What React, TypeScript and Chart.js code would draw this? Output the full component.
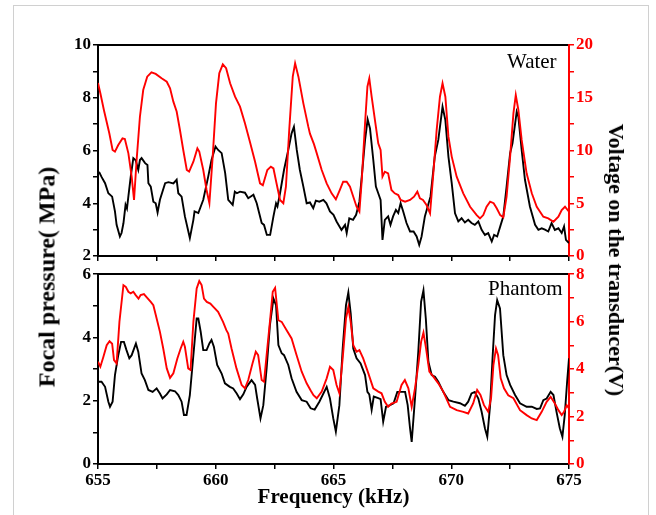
import React, { useEffect, useRef } from "react";
import { Chart, registerables } from "chart.js";
Chart.register(...registerables);

// ---------- Data ----------
const xTicksMajor = [655, 660, 665, 670, 675];

// Water: focal pressure (MPa)
const waterPF = [655.0, 655.06, 655.15, 655.3, 655.44, 655.6, 655.72, 655.79, 655.93, 656.0, 656.08, 656.17, 656.23, 656.29, 656.39, 656.5, 656.6, 656.71, 656.78, 656.85, 657.0, 657.1, 657.14, 657.24, 657.35, 657.45, 657.53, 657.63, 657.85, 657.99, 658.2, 658.34, 658.41, 658.55, 658.69, 658.9, 659.05, 659.1, 659.26, 659.47, 659.68, 659.82, 659.99, 660.1, 660.25, 660.4, 660.53, 660.72, 660.81, 660.9, 661.03, 661.24, 661.38, 661.6, 661.74, 661.95, 662.05, 662.17, 662.31, 662.45, 662.56, 662.62, 662.73, 662.9, 663.08, 663.22, 663.32, 663.44, 663.57, 663.72, 663.86, 664.0, 664.14, 664.25, 664.4, 664.57, 664.7, 664.85, 665.0, 665.13, 665.34, 665.49, 665.56, 665.67, 665.83, 665.96, 666.1, 666.2, 666.34, 666.45, 666.55, 666.69, 666.8, 666.9, 667.0, 667.08, 667.18, 667.32, 667.42, 667.53, 667.65, 667.75, 667.85, 667.96, 668.1, 668.25, 668.4, 668.53, 668.64, 668.74, 668.88, 669.12, 669.3, 669.45, 669.63, 669.75, 669.88, 670.02, 670.16, 670.3, 670.44, 670.58, 670.72, 670.86, 671.0, 671.15, 671.29, 671.43, 671.57, 671.72, 671.82, 671.95, 672.1, 672.21, 672.35, 672.5, 672.6, 672.78, 672.85, 672.99, 673.13, 673.34, 673.56, 673.7, 673.84, 673.98, 674.12, 674.26, 674.4, 674.55, 674.69, 674.79, 674.87, 675.0];
const waterP = [5.15, 5.16, 5.0, 4.76, 4.38, 4.25, 3.69, 3.18, 2.74, 2.87, 3.24, 3.94, 3.8, 4.26, 5.01, 5.71, 5.63, 5.27, 5.64, 5.71, 5.52, 5.45, 4.76, 4.63, 4.06, 4.0, 3.65, 4.13, 4.76, 4.8, 4.75, 4.89, 4.38, 4.25, 3.5, 2.68, 3.37, 3.69, 3.63, 4.13, 5.01, 5.64, 6.15, 6.02, 5.9, 5.14, 4.13, 3.94, 4.44, 4.38, 4.44, 4.4, 4.19, 4.32, 4.0, 3.25, 3.18, 2.8, 2.8, 3.5, 4.0, 3.88, 4.38, 5.27, 6.02, 6.65, 6.9, 6.02, 5.27, 4.63, 4.0, 4.03, 3.81, 4.1, 4.06, 4.13, 4.0, 3.69, 3.56, 3.31, 2.99, 3.18, 2.87, 3.43, 3.37, 3.56, 4.06, 5.01, 6.4, 7.18, 6.84, 5.64, 4.63, 4.38, 4.13, 2.61, 3.37, 3.5, 3.18, 3.5, 3.75, 3.63, 4.0, 3.69, 3.25, 2.93, 2.93, 2.74, 2.42, 2.74, 3.5, 4.26, 5.77, 6.4, 7.66, 7.15, 5.77, 4.76, 3.62, 3.31, 3.43, 3.27, 3.37, 3.25, 3.18, 3.31, 2.99, 2.8, 2.87, 2.55, 2.8, 2.74, 3.18, 3.5, 4.63, 5.9, 6.27, 7.47, 7.28, 6.02, 4.89, 3.88, 3.18, 2.99, 3.05, 3.0, 2.93, 3.25, 2.99, 3.05, 2.87, 3.12, 2.61, 2.49];

// Water: voltage (V)
const waterVF = [655.0, 655.1, 655.25, 655.48, 655.62, 655.72, 655.86, 656.04, 656.14, 656.29, 656.43, 656.53, 656.64, 656.78, 656.92, 657.09, 657.27, 657.45, 657.7, 657.92, 658.06, 658.2, 658.34, 658.48, 658.62, 658.77, 658.87, 659.05, 659.22, 659.3, 659.47, 659.61, 659.73, 659.87, 660.01, 660.15, 660.3, 660.44, 660.61, 660.82, 661.03, 661.24, 661.45, 661.67, 661.88, 662.0, 662.19, 662.34, 662.45, 662.58, 662.73, 662.87, 662.98, 663.12, 663.27, 663.37, 663.51, 663.72, 663.93, 664.0, 664.17, 664.29, 664.5, 664.71, 664.92, 665.1, 665.27, 665.41, 665.56, 665.7, 665.84, 665.98, 666.1, 666.2, 666.34, 666.44, 666.52, 666.62, 666.76, 666.9, 667.0, 667.08, 667.18, 667.32, 667.46, 667.6, 667.75, 667.85, 668.04, 668.25, 668.42, 668.56, 668.67, 668.8, 668.95, 669.1, 669.24, 669.38, 669.52, 669.63, 669.75, 669.88, 670.02, 670.23, 670.51, 670.8, 671.08, 671.22, 671.36, 671.5, 671.65, 671.8, 671.93, 672.08, 672.21, 672.35, 672.5, 672.64, 672.74, 672.85, 672.99, 673.2, 673.42, 673.63, 673.91, 674.12, 674.34, 674.55, 674.69, 674.83, 675.0];
const waterV = [16.4, 15.42, 13.84, 11.63, 10.05, 9.89, 10.52, 11.15, 11.08, 9.73, 7.52, 5.31, 9.1, 13.2, 15.73, 17.0, 17.41, 17.26, 16.84, 16.52, 15.9, 14.63, 13.7, 11.94, 10.05, 8.15, 8.0, 8.94, 10.2, 9.9, 8.15, 6.26, 5.0, 9.42, 14.47, 17.32, 18.17, 17.8, 16.37, 15.1, 14.16, 12.58, 10.84, 8.94, 6.89, 6.7, 8.15, 8.47, 8.3, 6.89, 5.31, 5.0, 6.57, 11.94, 17.0, 18.26, 17.0, 14.47, 12.26, 11.6, 10.6, 9.73, 8.15, 6.89, 5.94, 5.37, 6.26, 7.04, 7.04, 6.57, 5.62, 4.67, 4.2, 7.2, 12.58, 16.05, 16.84, 15.1, 12.89, 10.68, 10.05, 7.52, 7.99, 7.84, 6.26, 5.94, 5.78, 5.31, 5.15, 5.31, 5.62, 6.1, 5.47, 5.31, 4.83, 4.04, 7.84, 11.94, 15.1, 16.37, 15.1, 11.31, 9.42, 7.52, 5.94, 4.67, 3.88, 3.57, 3.88, 4.67, 5.15, 5.0, 4.52, 3.88, 3.67, 5.62, 9.42, 13.52, 15.26, 13.84, 11.0, 7.84, 5.94, 4.67, 3.72, 3.57, 3.25, 3.72, 4.36, 4.67, 4.2];

// Phantom: focal pressure (MPa)
const phantomPF = [655.0, 655.15, 655.3, 655.44, 655.51, 655.62, 655.72, 655.86, 655.98, 656.1, 656.21, 656.33, 656.43, 656.61, 656.71, 656.85, 656.99, 657.14, 657.32, 657.49, 657.63, 657.74, 657.92, 658.06, 658.27, 658.41, 658.55, 658.65, 658.76, 658.9, 659.05, 659.19, 659.26, 659.36, 659.47, 659.61, 659.73, 659.82, 659.92, 660.06, 660.25, 660.39, 660.6, 660.74, 660.89, 661.03, 661.17, 661.31, 661.52, 661.67, 661.76, 661.9, 662.02, 662.16, 662.3, 662.45, 662.56, 662.66, 662.8, 662.9, 663.08, 663.22, 663.43, 663.65, 663.86, 664.03, 664.2, 664.4, 664.71, 664.85, 664.99, 665.1, 665.25, 665.39, 665.53, 665.63, 665.73, 665.84, 665.98, 666.15, 666.34, 666.44, 666.52, 666.62, 666.71, 666.9, 667.0, 667.11, 667.23, 667.4, 667.55, 667.71, 667.9, 668.04, 668.15, 668.25, 668.32, 668.46, 668.6, 668.72, 668.82, 668.92, 669.03, 669.17, 669.31, 669.45, 669.66, 669.88, 670.09, 670.37, 670.58, 670.72, 670.86, 671.0, 671.15, 671.29, 671.43, 671.53, 671.65, 671.76, 671.86, 671.95, 672.07, 672.21, 672.35, 672.5, 672.71, 672.92, 673.2, 673.42, 673.63, 673.77, 673.91, 674.05, 674.22, 674.34, 674.47, 674.61, 674.72, 674.82, 674.92, 675.0];
const phantomP = [2.6, 2.6, 2.44, 1.97, 1.81, 1.97, 2.81, 3.44, 3.86, 3.86, 3.6, 3.34, 3.44, 3.81, 3.55, 2.86, 2.65, 2.34, 2.28, 2.39, 2.23, 2.07, 2.2, 2.34, 2.3, 2.18, 1.97, 1.55, 1.55, 2.18, 3.44, 4.6, 4.6, 4.18, 3.6, 3.6, 3.81, 3.92, 3.71, 3.13, 2.86, 2.55, 2.44, 2.39, 2.23, 2.05, 2.2, 2.44, 2.65, 2.5, 2.07, 1.44, 1.86, 3.02, 4.39, 5.23, 5.02, 3.76, 3.5, 3.44, 3.13, 2.71, 2.28, 2.02, 1.97, 1.76, 1.72, 1.97, 2.44, 2.07, 1.44, 1.02, 1.86, 3.65, 5.02, 5.42, 4.76, 3.65, 3.34, 3.18, 2.81, 2.28, 2.2, 1.71, 2.13, 2.08, 2.05, 1.34, 1.81, 1.86, 1.92, 2.28, 2.28, 2.28, 1.86, 1.13, 0.7, 2.07, 3.55, 5.13, 5.49, 4.6, 3.23, 2.81, 2.76, 2.6, 2.28, 2.02, 1.97, 1.92, 1.84, 1.97, 2.23, 2.28, 2.07, 1.65, 1.13, 0.86, 1.86, 3.44, 4.71, 5.18, 4.92, 3.44, 2.81, 2.5, 2.18, 1.92, 1.81, 1.81, 1.74, 1.76, 2.02, 2.07, 2.28, 2.18, 1.65, 1.13, 0.86, 1.55, 2.6, 3.34];

// Phantom: voltage (V)
const phantomVF = [655.0, 655.1, 655.23, 655.37, 655.49, 655.6, 655.68, 655.79, 655.91, 656.08, 656.18, 656.29, 656.39, 656.5, 656.6, 656.72, 656.81, 656.95, 657.09, 657.24, 657.35, 657.49, 657.63, 657.77, 657.92, 658.06, 658.2, 658.37, 658.51, 658.62, 658.69, 658.83, 658.93, 659.05, 659.19, 659.3, 659.4, 659.5, 659.62, 659.77, 659.9, 660.1, 660.31, 660.45, 660.53, 660.67, 660.88, 661.1, 661.24, 661.38, 661.56, 661.7, 661.8, 661.95, 662.05, 662.16, 662.3, 662.42, 662.52, 662.66, 662.8, 663.01, 663.22, 663.43, 663.65, 663.86, 664.03, 664.15, 664.29, 664.5, 664.71, 664.85, 664.99, 665.13, 665.25, 665.39, 665.53, 665.63, 665.73, 665.84, 665.98, 666.1, 666.26, 666.48, 666.69, 666.9, 667.04, 667.18, 667.32, 667.46, 667.68, 667.89, 668.03, 668.18, 668.32, 668.46, 668.6, 668.72, 668.82, 668.93, 669.07, 669.24, 669.45, 669.66, 669.95, 670.23, 670.51, 670.72, 670.93, 671.1, 671.24, 671.39, 671.57, 671.69, 671.79, 671.9, 671.99, 672.1, 672.24, 672.42, 672.64, 672.92, 673.2, 673.42, 673.63, 673.84, 674.05, 674.22, 674.4, 674.55, 674.69, 674.79, 674.9, 675.0];
const phantomV = [4.31, 4.1, 4.52, 5.01, 5.18, 5.07, 4.38, 4.24, 5.99, 7.54, 7.47, 7.26, 7.19, 7.26, 7.12, 6.97, 7.12, 7.16, 7.0, 6.83, 6.69, 6.13, 5.57, 4.87, 4.03, 3.63, 3.82, 4.45, 4.87, 5.15, 4.94, 4.03, 3.96, 5.99, 7.4, 7.71, 7.54, 6.97, 6.83, 6.76, 6.62, 6.41, 5.99, 5.64, 5.5, 4.87, 4.03, 3.33, 3.19, 3.54, 4.24, 4.73, 4.59, 3.54, 3.47, 4.59, 5.99, 7.26, 7.42, 6.06, 5.99, 5.64, 5.29, 4.59, 3.89, 3.4, 3.1, 2.9, 2.77, 3.05, 3.61, 4.1, 3.96, 3.33, 2.98, 4.45, 6.13, 6.62, 5.99, 5.01, 4.73, 4.8, 4.45, 3.82, 3.19, 3.05, 2.98, 2.62, 2.41, 2.55, 2.62, 3.33, 3.54, 3.19, 2.41, 3.19, 4.17, 5.15, 5.54, 4.87, 3.89, 3.68, 3.4, 3.05, 2.41, 2.27, 2.2, 2.13, 2.55, 3.12, 2.91, 2.48, 2.2, 2.77, 4.17, 4.87, 4.59, 3.61, 3.19, 2.9, 2.77, 2.27, 2.06, 1.92, 1.85, 2.2, 2.62, 2.83, 2.55, 2.27, 2.06, 2.2, 2.48, 2.34];

const toXY = (xs: number[], ys: number[]) => xs.map((x, i) => ({ x, y: ys[i] }));

const FONT = '"Liberation Serif", "Times New Roman", serif';
const RED = "#ff0000";
const BLACK = "#000000";
const W = 656;
const LEFT_W = 98;
const RIGHT_W = 87;

function buildOptions(opts: {
  padTop: number;
  xHeight: number;
  showX: boolean;
  yL: [number, number, number, number];
  yR: [number, number, number, number];
}) {
  const [lMin, lMax, lStep, lLabel] = opts.yL;
  const [rMin, rMax, rStep, rLabel] = opts.yR;
  const tickFont = { family: FONT, size: 17, weight: "bold" as const };
  return {
    responsive: false,
    animation: false as const,
    events: [],
    layout: { autoPadding: false, padding: { top: opts.padTop, left: 0, right: 0, bottom: 0 } },
    plugins: { legend: { display: false }, tooltip: { enabled: false } },
    elements: { point: { radius: 0 }, line: { tension: 0, borderWidth: 1.9 } },
    scales: {
      x: {
        type: "linear" as const,
        position: "bottom" as const,
        min: 655,
        max: 675,
        afterBuildTicks: (s: any) => {
          const t = [];
          for (let v = 655; v <= 675.001; v += 2.5) t.push({ value: v });
          s.ticks = t;
        },
        ticks: {
          display: opts.showX,
          autoSkip: false,
          maxRotation: 0,
          padding: 1,
          color: BLACK,
          font: tickFont,
          callback: (v: any) => (xTicksMajor.includes(Number(v)) ? String(v) : ""),
        },
        grid: { drawOnChartArea: false, tickLength: 5, color: BLACK, lineWidth: 1.5 },
        border: { color: BLACK, width: 2 },
        title: {
          display: opts.showX,
          text: "Frequency (kHz)",
          color: BLACK,
          font: { family: FONT, size: 21, weight: "bold" as const },
          padding: { top: 0, bottom: 5 },
        },
        afterFit: (s: any) => {
          s.height = opts.xHeight;
        },
      },
      xTop: {
        type: "linear" as const,
        position: "top" as const,
        min: 655,
        max: 675,
        ticks: { display: false },
        grid: { display: false },
        border: { color: BLACK, width: 2 },
        afterFit: (s: any) => {
          s.height = 0;
        },
      },
      yL: {
        type: "linear" as const,
        position: "left" as const,
        min: lMin,
        max: lMax,
        ticks: {
          stepSize: lStep,
          autoSkip: false,
          padding: 2,
          color: BLACK,
          font: tickFont,
          callback: (v: any) => (Math.abs(Number(v) / lLabel - Math.round(Number(v) / lLabel)) < 1e-6 ? String(v) : ""),
        },
        grid: { drawOnChartArea: false, tickLength: 5, color: BLACK, lineWidth: 1.5 },
        border: { color: BLACK, width: 2 },
        afterFit: (s: any) => {
          s.width = LEFT_W;
        },
      },
      yR: {
        type: "linear" as const,
        position: "right" as const,
        min: rMin,
        max: rMax,
        ticks: {
          stepSize: rStep,
          autoSkip: false,
          padding: 2,
          color: RED,
          font: tickFont,
          callback: (v: any) => (Math.abs(Number(v) / rLabel - Math.round(Number(v) / rLabel)) < 1e-6 ? String(v) : ""),
        },
        grid: { drawOnChartArea: false, tickLength: 5, color: RED, lineWidth: 1.5 },
        border: { color: RED, width: 2 },
        afterFit: (s: any) => {
          s.width = RIGHT_W;
        },
      },
    },
  };
}

function Panel(props: {
  top: number;
  height: number;
  pF: number[];
  p: number[];
  vF: number[];
  v: number[];
  padTop: number;
  xHeight: number;
  showX: boolean;
  yL: [number, number, number, number];
  yR: [number, number, number, number];
}) {
  const ref = useRef<HTMLCanvasElement | null>(null);
  useEffect(() => {
    if (!ref.current) return;
    const chart = new Chart(ref.current, {
      type: "line",
      data: {
        datasets: [
          {
            data: toXY(props.vF, props.v),
            borderColor: RED,
            yAxisID: "yR",
            xAxisID: "x",
            pointRadius: 0,
            fill: false,
          },
          {
            data: toXY(props.pF, props.p),
            borderColor: BLACK,
            yAxisID: "yL",
            xAxisID: "x",
            pointRadius: 0,
            fill: false,
          },
        ],
      },
      options: buildOptions(props) as any,
    });
    return () => chart.destroy();
  }, []);
  return (
    <canvas
      ref={ref}
      width={W}
      height={props.height}
      style={{ position: "absolute", left: 0, top: props.top, width: W, height: props.height }}
    />
  );
}

export default function App() {
  return (
    <div style={{ position: "absolute", left: 0, top: 0, width: 656, height: 515, background: "#fff", overflow: "hidden" }}>
      <div
        style={{
          position: "absolute",
          left: 13,
          top: 5,
          width: 636,
          height: 530,
          border: "1px solid #d0d0d0",
          boxSizing: "border-box",
        }}
      />
      <Panel
        top={0}
        height={270}
        pF={waterPF}
        p={waterP}
        vF={waterVF}
        v={waterV}
        padTop={45}
        xHeight={14}
        showX={false}
        yL={[2, 10, 1, 2]}
        yR={[0, 20, 2.5, 5]}
      />
      <Panel
        top={262}
        height={253}
        pF={phantomPF}
        p={phantomP}
        vF={phantomVF}
        v={phantomV}
        padTop={12}
        xHeight={51}
        showX={true}
        yL={[0, 6, 1, 2]}
        yR={[0, 8, 1, 2]}
      />
      <div
        style={{
          position: "absolute",
          left: 507,
          top: 49,
          font: `21px ${FONT}`,
          color: "#000",
          whiteSpace: "nowrap",
          lineHeight: "24px",
        }}
      >
        Water
      </div>
      <div
        style={{
          position: "absolute",
          left: 488,
          top: 276,
          font: `21px ${FONT}`,
          color: "#000",
          whiteSpace: "nowrap",
          lineHeight: "24px",
        }}
      >
        Phantom
      </div>
      <div
        style={{
          position: "absolute",
          left: 47,
          top: 277,
          transform: "translate(-50%, -50%) rotate(-90deg)",
          font: `bold 24px ${FONT}`,
          color: "#000",
          whiteSpace: "nowrap",
        }}
      >
        Focal pressure( MPa)
      </div>
      <div
        style={{
          position: "absolute",
          left: 616,
          top: 260,
          transform: "translate(-50%, -50%) rotate(90deg)",
          font: `bold 22px ${FONT}`,
          color: "#000",
          whiteSpace: "nowrap",
        }}
      >
        Voltage on the transducer(V)
      </div>
    </div>
  );
}
